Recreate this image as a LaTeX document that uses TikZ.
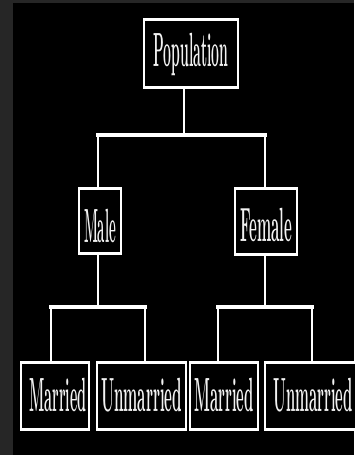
\documentclass[tikz,border=0pt]{standalone}
\usepackage{graphicx}
\begin{document}
\begin{tikzpicture}[x=1pt,y=-1pt,
  box/.style={draw=white,line width=2pt,fill=black,text=white!90!gray,inner sep=0pt,outer sep=0pt},
  edge/.style={draw=white,line width=3.5pt},
  conn/.style={draw=white,line width=1.6pt},
  bar/.style={draw=white,line width=4pt,line cap=rect}]
\fill[black!85] (0,0) rectangle (354,455);
\fill[black] (13,3) rectangle (354,455);
\useasboundingbox (0,0) rectangle (354,455);
\newcommand{\lbl}[2]{\resizebox{#1pt}{\height}{\fontsize{48}{48}\selectfont\bfseries #2}}
\node[box,minimum width=94pt,minimum height=69pt,text height=33pt,text depth=8pt] (pop) at (191,53.5) {\lbl{75}{Population}};
\node[box,minimum width=42pt,minimum height=66pt,text height=42pt,text depth=0pt] (male) at (100,221) {\lbl{32}{Male}};
\node[box,minimum width=62pt,minimum height=67pt,text height=40pt,text depth=0pt] (female) at (266,221.5) {\lbl{52}{Female}};
\node[box,minimum width=68pt,minimum height=68pt,text height=30pt,text depth=0pt] (m1) at (55,396) {\hspace{6pt}\lbl{57}{Married}};
\node[box,minimum width=89pt,minimum height=68pt,text height=30pt,text depth=0pt] (u1) at (141.5,396) {\lbl{81}{Unmarried}};
\node[box,minimum width=68pt,minimum height=68pt,text height=30pt,text depth=0pt] (m2) at (224,396) {\lbl{59}{Married}};
\node[box,minimum width=96pt,minimum height=68pt,text height=30pt,text depth=0pt] (u2) at (313,396) {\lbl{79}{Unmarried}\hspace{6pt}};
\foreach \n in {pop,male,female,m1,u1,m2,u2}{
  \draw[edge] ([yshift=-0.7pt]\n.north west) -- ([yshift=-0.7pt]\n.north east);
  \draw[edge] ([yshift=0.7pt]\n.south west) -- ([yshift=0.7pt]\n.south east);
}
% top level
\coordinate (j0) at (184,135);
\coordinate (j0l) at (98,135);
\coordinate (j0r) at (265,135);
\draw[conn] (pop.south -| j0) -- (j0);
\draw[bar] (j0l) -- (j0r);
\draw[conn] (j0l) -- (j0l |- male.north);
\draw[conn] (j0r) -- (j0r |- female.north);
% male branch
\coordinate (j1) at (98,307);
\coordinate (j1l) at (51,307);
\coordinate (j1r) at (145,307);
\draw[conn] (male.south -| j1) -- (j1);
\draw[bar] (j1l) -- (j1r);
\draw[conn] (j1l) -- (j1l |- m1.north);
\draw[conn] (j1r) -- (j1r |- u1.north);
% female branch
\coordinate (j2) at (265,307);
\coordinate (j2l) at (218,307);
\coordinate (j2r) at (312,307);
\draw[conn] (female.south -| j2) -- (j2);
\draw[bar] (j2l) -- (j2r);
\draw[conn] (j2l) -- (j2l |- m2.north);
\draw[conn] (j2r) -- (j2r |- u2.north);
\end{tikzpicture}
\end{document}
